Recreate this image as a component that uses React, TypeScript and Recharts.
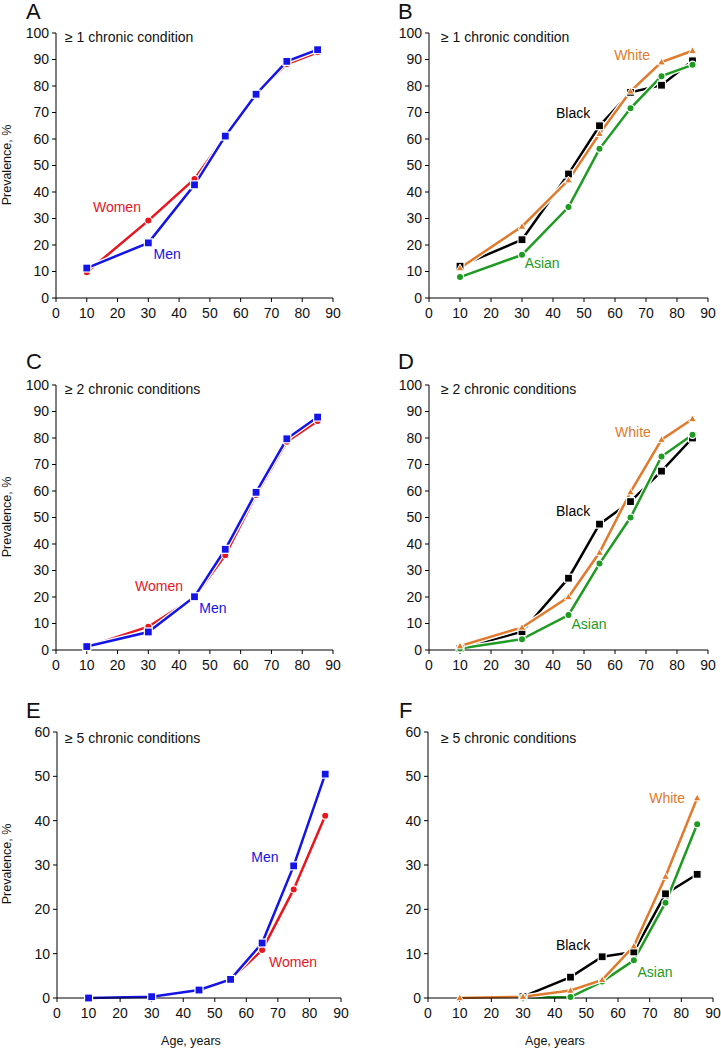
import { LineChart, Line, XAxis, YAxis, ReferenceDot } from 'recharts';

const AGES = [10, 30, 45, 55, 65, 75, 85];
const X_TICKS = [0, 10, 20, 30, 40, 50, 60, 70, 80, 90];
const Y_TICKS_100 = [0, 10, 20, 30, 40, 50, 60, 70, 80, 90, 100];
const Y_TICKS_60 = [0, 10, 20, 30, 40, 50, 60];

// >= 1 chronic condition
const womenA = [9.7, 29.2, 44.9, 61, 77, 88.3, 92.7];
const menA = [11.3, 20.8, 42.7, 61.1, 76.9, 89.3, 93.7];
const whiteB = [11.3, 27, 44.5, 62, 78, 89, 93.3];
const blackB = [12, 22, 46.8, 65, 77.6, 80.3, 89.5];
const asianB = [7.9, 16.3, 34.3, 56.3, 71.6, 83.7, 88];

// >= 2 chronic conditions
const womenC = [1.2, 8.8, 19.9, 35.8, 58.5, 78.6, 86.4];
const menC = [1.3, 6.8, 20.1, 38, 59.5, 79.7, 87.9];
const whiteD = [1.5, 8.5, 20, 36.8, 59.6, 79.4, 87.2];
const blackD = [0.6, 6.9, 27.1, 47.5, 56, 67.5, 80];
const asianD = [0.6, 4.1, 13.2, 32.6, 50, 73, 81.2];

// >= 5 chronic conditions
const menE = [0, 0.3, 1.8, 4.2, 12.4, 29.8, 50.5];
const womenE = [0, 0.2, 1.7, 4.2, 10.8, 24.5, 41.1];
const whiteF = [0, 0.3, 1.7, 4.1, 11.7, 27.4, 45.1];
const blackF = [null, 0.3, 4.7, 9.3, 10.4, 23.5, 27.9];
const asianF = [null, 0.1, 0.2, 3.7, 8.5, 21.5, 39.2];

const FONT = '"Liberation Sans", Arial, sans-serif';
const RED = '#e8161f';
const BLUE = '#1414e6';
const GREEN = '#1f9a22';
const ORANGE = '#e07a2c';
const BLACK = '#000000';

type Shape = 'square' | 'circle' | 'triangle';
type Series = { key: string; values: (number | null)[]; color: string; shape: Shape };
type Note = { x: number; y: number; text: string; color: string };
type Rect = { L: number; R: number; T: number; B: number };

const makeDot = (shape: Shape, color: string) => (props: any) => {
  const { cx, cy, index, value } = props;
  if (cx == null || cy == null || value == null) return <g key={`d-${index}`} />;
  if (shape === 'square') {
    return <rect key={`d-${index}`} x={cx - 4} y={cy - 4} width={8} height={8} fill={color} stroke="#fff" strokeWidth={1.2} />;
  }
  if (shape === 'circle') {
    return <circle key={`d-${index}`} cx={cx} cy={cy} r={3.6} fill={color} stroke="#fff" strokeWidth={1.2} />;
  }
  return (
    <path
      key={`d-${index}`}
      d={`M${cx},${cy - 4} L${cx + 3.8},${cy + 2.8} L${cx - 3.8},${cy + 2.8} Z`}
      fill={color}
      stroke="#fff"
      strokeWidth={1}
    />
  );
};

const tickStyle = { fill: '#111', fontSize: 14, fontFamily: FONT };

function Panel({ rect, yMax, series, notes }: { rect: Rect; yMax: number; series: Series[]; notes: Note[] }) {
  const ML = 50, MT = 30, MR = 15, XH = 28;
  const width = rect.R - rect.L + ML + MR;
  const height = rect.B - rect.T + MT + XH;
  const data = AGES.map((age, i) => {
    const row: any = { age };
    series.forEach((s) => (row[s.key] = s.values[i]));
    return row;
  });
  return (
    <div style={{ position: 'absolute', left: rect.L - ML, top: rect.T - MT }}>
      <LineChart width={width} height={height} data={data} margin={{ top: MT, right: MR, left: 0, bottom: 0 }}>
        <XAxis
          dataKey="age"
          type="number"
          domain={[0, 90]}
          ticks={X_TICKS}
          interval={0}
          height={XH}
          tick={tickStyle}
          tickSize={4}
          tickMargin={6}
          stroke="#000"
          allowDataOverflow
        />
        <YAxis
          type="number"
          domain={[0, yMax]}
          ticks={yMax === 100 ? Y_TICKS_100 : Y_TICKS_60}
          interval={0}
          width={ML}
          tick={tickStyle}
          tickSize={4}
          tickMargin={3}
          stroke="#000"
        />
        {series.flatMap((s) => [
          <Line
            key={`${s.key}-halo`}
            dataKey={s.key}
            stroke="#fff"
            strokeWidth={5}
            dot={false}
            activeDot={false}
            isAnimationActive={false}
          />,
          <Line
            key={s.key}
            dataKey={s.key}
            stroke={s.color}
            strokeWidth={2.5}
            dot={makeDot(s.shape, s.color)}
            activeDot={false}
            isAnimationActive={false}
          />,
        ])}
        {notes.map((n) => (
          <ReferenceDot
            key={n.text}
            x={n.x}
            y={n.y}
            r={0}
            shape={(p: any) => (
              <text x={p.cx} y={p.cy} dy="0.35em" textAnchor="middle" fill={n.color} fontSize={14} fontFamily={FONT}>
                {n.text}
              </text>
            )}
          />
        ))}
      </LineChart>
    </div>
  );
}

const sexSeries = (women: number[], men: number[]): Series[] => [
  { key: 'women', values: women, color: RED, shape: 'circle' },
  { key: 'men', values: men, color: BLUE, shape: 'square' },
];
const raceSeries = (black: (number | null)[], asian: (number | null)[], white: number[]): Series[] => [
  { key: 'black', values: black, color: BLACK, shape: 'square' },
  { key: 'asian', values: asian, color: GREEN, shape: 'circle' },
  { key: 'white', values: white, color: ORANGE, shape: 'triangle' },
];

export default function App() {
  const overlay = [
    { x: 26, y: 19, t: 'A', s: 22 },
    { x: 398, y: 19, t: 'B', s: 22 },
    { x: 26, y: 369, t: 'C', s: 22 },
    { x: 398, y: 369, t: 'D', s: 22 },
    { x: 26, y: 718, t: 'E', s: 22 },
    { x: 399, y: 718, t: 'F', s: 22 },
    { x: 65, y: 42, t: '≥ 1 chronic condition', s: 14 },
    { x: 441, y: 42, t: '≥ 1 chronic condition', s: 14 },
    { x: 65, y: 394, t: '≥ 2 chronic conditions', s: 14 },
    { x: 441, y: 394, t: '≥ 2 chronic conditions', s: 14 },
    { x: 65, y: 743, t: '≥ 5 chronic conditions', s: 14 },
    { x: 441, y: 743, t: '≥ 5 chronic conditions', s: 14 },
  ];
  return (
    <div style={{ position: 'absolute', left: 0, top: 0, width: 721, height: 1049, background: '#fff', overflow: 'hidden' }}>
      <Panel
        rect={{ L: 56, R: 333, T: 33, B: 298 }}
        yMax={100}
        series={sexSeries(womenA, menA)}
        notes={[
          { x: 19.8, y: 34.3, text: 'Women', color: RED },
          { x: 36.1, y: 16.6, text: 'Men', color: BLUE },
        ]}
      />
      <Panel
        rect={{ L: 429, R: 708, T: 33, B: 298 }}
        yMax={100}
        series={raceSeries(blackB, asianB, whiteB)}
        notes={[
          { x: 65.5, y: 91.7, text: 'White', color: ORANGE },
          { x: 46.5, y: 69.8, text: 'Black', color: BLACK },
          { x: 36.5, y: 13.2, text: 'Asian', color: GREEN },
        ]}
      />
      <Panel
        rect={{ L: 56, R: 333, T: 385, B: 650 }}
        yMax={100}
        series={sexSeries(womenC, menC)}
        notes={[
          { x: 33.5, y: 24.2, text: 'Women', color: RED },
          { x: 51, y: 15.8, text: 'Men', color: BLUE },
        ]}
      />
      <Panel
        rect={{ L: 429, R: 708, T: 385, B: 650 }}
        yMax={100}
        series={raceSeries(blackD, asianD, whiteD)}
        notes={[
          { x: 65.8, y: 82.3, text: 'White', color: ORANGE },
          { x: 46.5, y: 52.5, text: 'Black', color: BLACK },
          { x: 51.6, y: 9.8, text: 'Asian', color: GREEN },
        ]}
      />
      <Panel
        rect={{ L: 57, R: 341, T: 732, B: 998 }}
        yMax={60}
        series={sexSeries(womenE, menE)}
        notes={[
          { x: 65.9, y: 31.8, text: 'Men', color: BLUE },
          { x: 74.8, y: 8.1, text: 'Women', color: RED },
        ]}
      />
      <Panel
        rect={{ L: 428, R: 713, T: 732, B: 998 }}
        yMax={60}
        series={raceSeries(blackF, asianF, whiteF)}
        notes={[
          { x: 75.5, y: 45.1, text: 'White', color: ORANGE },
          { x: 45.8, y: 12, text: 'Black', color: BLACK },
          { x: 71.7, y: 5.9, text: 'Asian', color: GREEN },
        ]}
      />
      <svg width={721} height={1049} style={{ position: 'absolute', left: 0, top: 0, pointerEvents: 'none' }}>
        {overlay.map((o, i) => (
          <text key={i} x={o.x} y={o.y} fontSize={o.s} fontFamily={FONT} fill="#111">
            {o.t}
          </text>
        ))}
        {[165, 517, 864].map((cy) => (
          <text
            key={cy}
            transform={`translate(10.5, ${cy}) rotate(-90)`}
            textAnchor="middle"
            fontSize={12.5}
            fontFamily={FONT}
            fill="#111"
          >
            Prevalence, %
          </text>
        ))}
        <text x={191} y={1045} textAnchor="middle" fontSize={12.5} fontFamily={FONT} fill="#111">
          Age, years
        </text>
        <text x={555} y={1045} textAnchor="middle" fontSize={12.5} fontFamily={FONT} fill="#111">
          Age, years
        </text>
      </svg>
    </div>
  );
}
